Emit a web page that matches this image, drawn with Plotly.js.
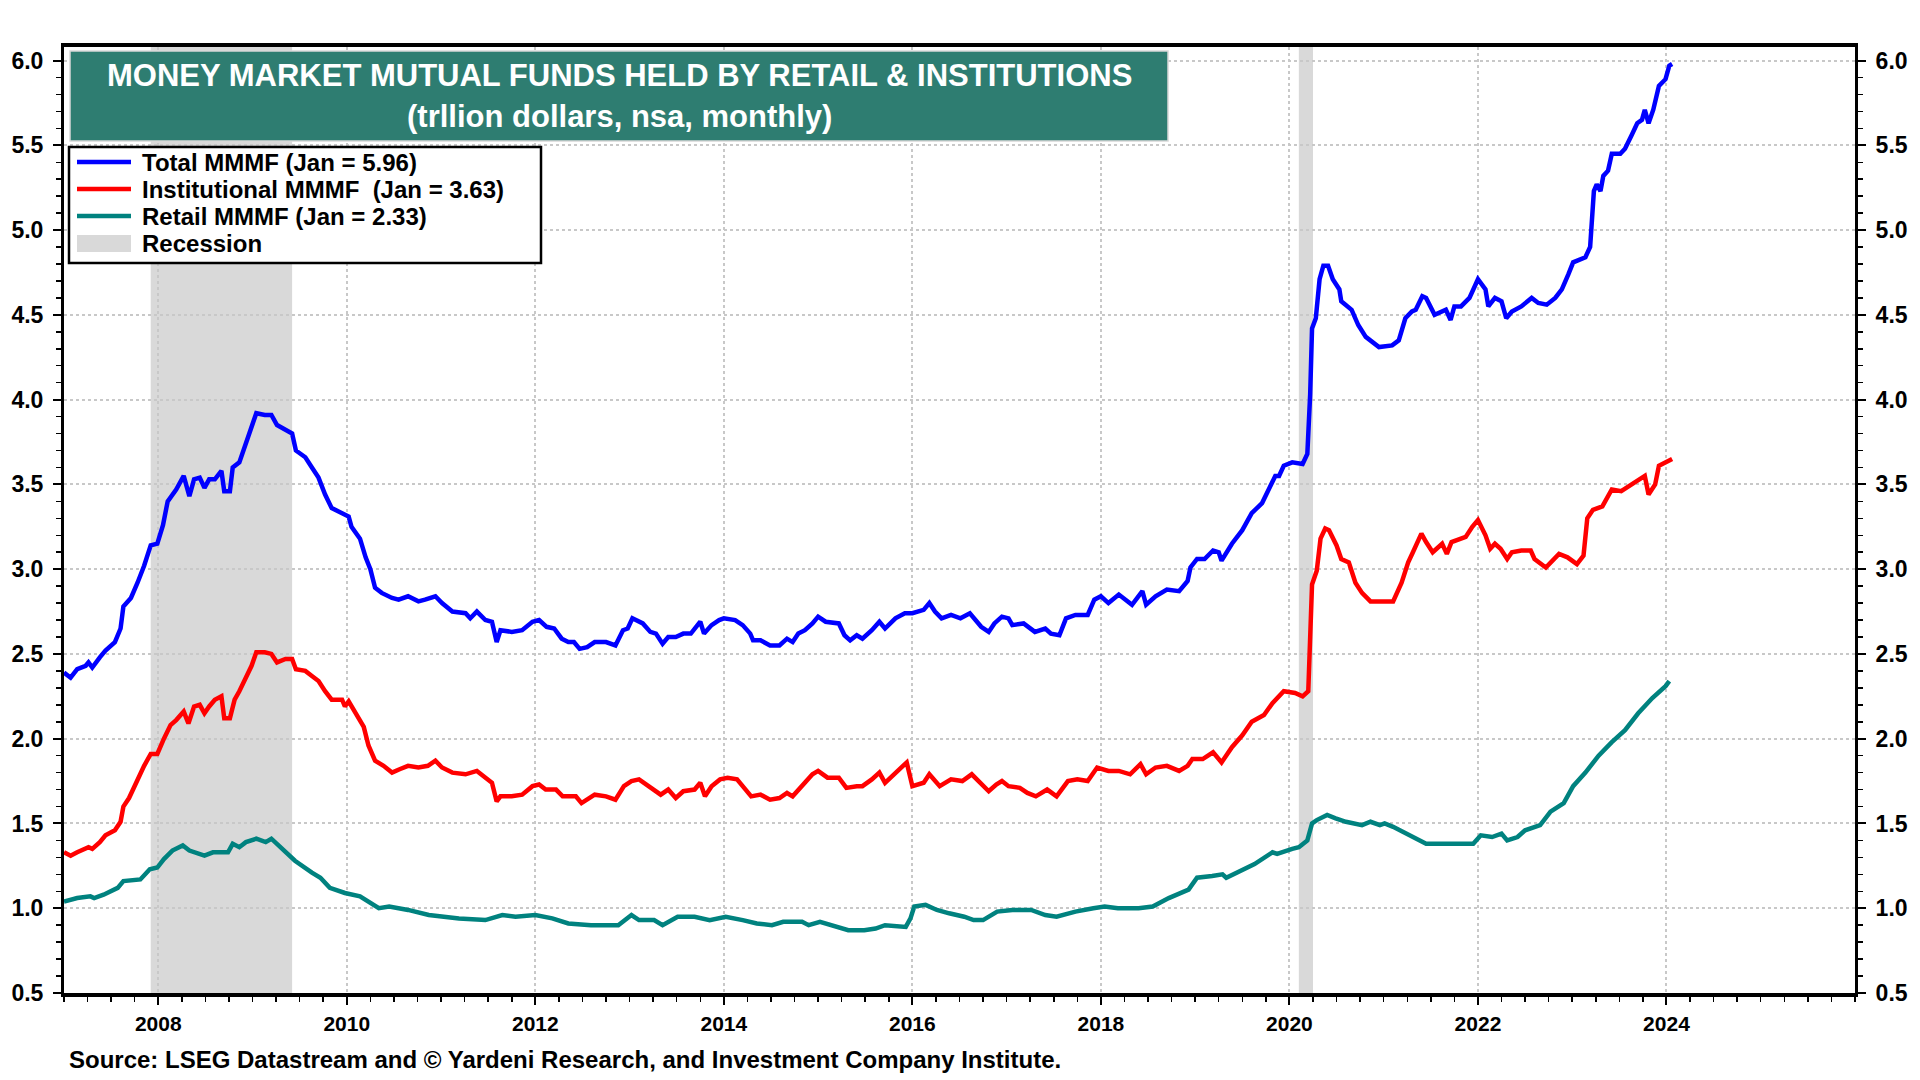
<!DOCTYPE html>
<html>
<head>
<meta charset="utf-8">
<script src="https://cdn.plot.ly/plotly-3.0.1.min.js"></script>
<style>
  html, body { margin: 0; padding: 0; background: #ffffff; }
  #chart { width: 1920px; height: 1080px; }
</style>
</head>
<body>
<div id="chart"></div>
<script>
// ---------------- DATA ----------------
const totalYears = [2007.00,2007.07,2007.14,2007.23,2007.26,2007.30,2007.38,2007.44,2007.54,2007.60,2007.63,2007.71,2007.78,2007.85,2007.92,2007.99,
2008.05,2008.10,2008.19,2008.27,2008.33,2008.38,2008.44,2008.49,2008.54,2008.60,2008.67,2008.70,2008.76,2008.79,2008.86,2008.92,2008.97,
2009.04,2009.13,2009.20,2009.26,2009.35,2009.42,2009.46,2009.56,2009.63,2009.70,2009.77,2009.84,2009.95,
2010.02,2010.05,2010.14,2010.20,2010.25,2010.30,2010.37,2010.48,2010.55,2010.65,2010.76,2010.83,2010.94,
2011.01,2011.12,2011.26,2011.31,2011.38,2011.47,2011.54,2011.59,2011.63,2011.75,2011.86,2011.97,
2012.04,2012.12,2012.20,2012.28,2012.35,2012.41,2012.47,2012.55,2012.63,2012.75,2012.85,2012.93,2012.98,
2013.03,2013.14,2013.22,2013.28,2013.35,2013.41,2013.49,2013.57,2013.65,2013.75,2013.79,2013.87,2013.95,
2014.00,2014.12,2014.20,2014.28,2014.31,2014.39,2014.49,2014.59,2014.67,2014.73,2014.79,2014.86,2014.94,
2015.00,2015.08,2015.22,2015.28,2015.34,2015.41,2015.47,2015.57,2015.65,2015.71,2015.82,2015.92,
2016.00,2016.12,2016.18,2016.24,2016.31,2016.41,2016.51,2016.61,2016.66,2016.73,2016.81,2016.87,2016.95,
2017.02,2017.06,2017.18,2017.30,2017.41,2017.47,2017.56,2017.63,2017.73,2017.86,2017.93,
2018.00,2018.08,2018.19,2018.33,2018.44,2018.48,2018.58,2018.70,2018.83,2018.92,2018.95,
2019.02,2019.10,2019.19,2019.25,2019.28,2019.39,2019.50,2019.60,2019.71,2019.78,2019.85,2019.89,2019.94,
2020.03,2020.14,2020.19,2020.22,2020.24,2020.28,2020.32,2020.36,2020.41,2020.46,2020.53,2020.55,2020.66,2020.73,2020.81,2020.95,
2021.09,2021.16,2021.23,2021.30,2021.34,2021.41,2021.45,2021.54,2021.66,2021.71,2021.75,2021.82,2021.91,
2022.00,2022.08,2022.11,2022.18,2022.25,2022.30,2022.36,2022.46,2022.57,2022.64,2022.73,2022.82,2022.89,2022.96,
2023.01,2023.14,2023.19,2023.23,2023.26,2023.30,2023.33,2023.38,2023.42,2023.51,2023.56,2023.63,2023.69,2023.74,2023.77,2023.81,2023.86,2023.92,2023.99,
2024.03,2024.06];
const totalValues = [2.39,2.36,2.41,2.43,2.45,2.42,2.48,2.52,2.57,2.65,2.78,2.83,2.92,3.02,3.14,3.15,
3.26,3.40,3.47,3.55,3.43,3.53,3.54,3.48,3.53,3.53,3.58,3.46,3.46,3.60,3.63,3.73,3.80,
3.92,3.91,3.91,3.85,3.82,3.80,3.70,3.66,3.60,3.54,3.44,3.36,3.33,
3.31,3.25,3.18,3.07,3.00,2.89,2.86,2.83,2.82,2.84,2.81,2.82,2.84,
2.80,2.75,2.74,2.71,2.75,2.70,2.69,2.57,2.64,2.63,2.64,2.69,
2.70,2.66,2.65,2.59,2.57,2.57,2.53,2.54,2.57,2.57,2.55,2.64,2.65,
2.71,2.68,2.63,2.62,2.56,2.60,2.60,2.62,2.62,2.69,2.62,2.67,2.70,
2.71,2.70,2.67,2.62,2.58,2.58,2.55,2.55,2.59,2.57,2.62,2.64,2.68,
2.72,2.69,2.68,2.61,2.58,2.61,2.59,2.64,2.69,2.65,2.71,2.74,
2.74,2.76,2.80,2.75,2.71,2.73,2.71,2.74,2.71,2.66,2.63,2.68,2.72,
2.71,2.67,2.68,2.63,2.65,2.62,2.61,2.71,2.73,2.73,2.82,
2.84,2.80,2.85,2.79,2.87,2.79,2.84,2.88,2.87,2.93,3.01,
3.06,3.06,3.11,3.10,3.05,3.15,3.23,3.33,3.39,3.47,3.55,3.55,3.61,
3.63,3.62,3.68,4.03,4.42,4.48,4.71,4.79,4.79,4.71,4.65,4.58,4.53,4.44,4.37,4.31,
4.32,4.35,4.48,4.52,4.53,4.61,4.60,4.50,4.53,4.47,4.55,4.55,4.60,
4.71,4.65,4.55,4.60,4.58,4.48,4.52,4.55,4.60,4.57,4.56,4.60,4.65,4.74,
4.81,4.84,4.90,5.23,5.27,5.23,5.32,5.35,5.45,5.45,5.48,5.56,5.63,5.65,5.71,5.63,5.71,5.85,5.89,
5.97,5.98];

const instYears = [2007.00,2007.07,2007.14,2007.26,2007.30,2007.38,2007.44,2007.54,2007.60,2007.63,2007.69,2007.76,2007.85,2007.92,2007.99,
2008.06,2008.13,2008.19,2008.27,2008.32,2008.38,2008.44,2008.49,2008.54,2008.60,2008.67,2008.70,2008.76,2008.81,2008.86,2008.93,2008.99,
2009.04,2009.13,2009.20,2009.26,2009.35,2009.42,2009.46,2009.56,2009.63,2009.70,2009.77,2009.84,2009.95,2009.98,
2010.02,2010.12,2010.18,2010.23,2010.30,2010.39,2010.48,2010.56,2010.65,2010.76,2010.86,2010.94,
2011.01,2011.12,2011.26,2011.38,2011.47,2011.54,2011.59,2011.63,2011.75,2011.86,2011.97,
2012.04,2012.11,2012.22,2012.29,2012.43,2012.49,2012.63,2012.75,2012.85,2012.94,
2013.02,2013.10,2013.22,2013.33,2013.41,2013.49,2013.57,2013.69,2013.75,2013.80,2013.87,2013.96,
2014.04,2014.14,2014.20,2014.29,2014.39,2014.49,2014.59,2014.67,2014.73,2014.81,2014.94,
2015.00,2015.10,2015.22,2015.30,2015.41,2015.47,2015.57,2015.65,2015.71,2015.82,2015.94,
2016.00,2016.12,2016.18,2016.29,2016.41,2016.53,2016.63,2016.73,2016.81,2016.89,2016.95,
2017.02,2017.14,2017.22,2017.31,2017.43,2017.53,2017.65,2017.75,2017.86,2017.96,
2018.08,2018.19,2018.31,2018.42,2018.48,2018.58,2018.70,2018.83,2018.92,2018.97,
2019.08,2019.19,2019.28,2019.39,2019.50,2019.60,2019.73,2019.82,2019.94,
2020.06,2020.14,2020.20,2020.24,2020.29,2020.33,2020.38,2020.42,2020.50,2020.55,2020.63,2020.70,2020.77,2020.86,2020.95,
2021.10,2021.19,2021.26,2021.31,2021.40,2021.45,2021.52,2021.62,2021.67,2021.72,2021.87,2021.94,
2022.00,2022.08,2022.13,2022.18,2022.24,2022.31,2022.36,2022.46,2022.56,2022.60,2022.72,2022.86,2022.95,
2023.05,2023.12,2023.16,2023.22,2023.32,2023.42,2023.52,2023.63,2023.77,2023.81,2023.88,2023.92,2023.99,
2024.06];
const instValues = [1.33,1.31,1.33,1.36,1.35,1.39,1.43,1.46,1.51,1.60,1.65,1.74,1.84,1.91,1.91,
2.00,2.08,2.11,2.16,2.09,2.19,2.20,2.15,2.19,2.23,2.25,2.12,2.12,2.23,2.28,2.36,2.43,
2.51,2.51,2.50,2.45,2.47,2.47,2.41,2.40,2.37,2.34,2.28,2.23,2.23,2.19,
2.22,2.12,2.07,1.96,1.87,1.84,1.80,1.82,1.84,1.83,1.84,1.87,
1.83,1.80,1.79,1.81,1.77,1.74,1.63,1.66,1.66,1.67,1.72,
1.73,1.70,1.70,1.66,1.66,1.62,1.67,1.66,1.64,1.72,
1.75,1.76,1.71,1.67,1.70,1.65,1.69,1.70,1.74,1.66,1.72,1.76,
1.77,1.76,1.72,1.66,1.67,1.64,1.65,1.68,1.66,1.71,1.79,
1.81,1.77,1.77,1.71,1.72,1.72,1.76,1.80,1.74,1.80,1.86,
1.72,1.74,1.79,1.72,1.76,1.75,1.79,1.73,1.69,1.73,1.75,
1.72,1.71,1.68,1.66,1.70,1.66,1.75,1.76,1.75,1.83,
1.81,1.81,1.79,1.85,1.79,1.83,1.84,1.81,1.84,1.88,
1.88,1.92,1.86,1.95,2.02,2.10,2.14,2.21,2.28,
2.27,2.25,2.28,2.91,2.99,3.18,3.24,3.23,3.14,3.06,3.04,2.92,2.86,2.81,2.81,
2.81,2.92,3.04,3.10,3.21,3.16,3.10,3.15,3.09,3.16,3.19,3.25,
3.29,3.20,3.12,3.15,3.12,3.06,3.10,3.11,3.11,3.06,3.01,3.09,3.07,
3.03,3.08,3.30,3.35,3.37,3.47,3.46,3.50,3.55,3.44,3.50,3.61,3.63,
3.65];

const retailYears = [2007.00,2007.14,2007.28,2007.32,2007.42,2007.57,2007.63,2007.81,2007.91,2007.99,
2008.06,2008.15,2008.26,2008.33,2008.49,2008.58,2008.74,2008.79,2008.86,2008.93,
2009.04,2009.14,2009.20,2009.29,2009.38,2009.45,2009.63,2009.72,2009.82,2009.98,
2010.14,2010.25,2010.34,2010.45,2010.65,2010.87,
2011.01,2011.19,2011.47,2011.65,2011.79,
2012.00,2012.18,2012.35,2012.59,2012.88,
2013.02,2013.10,2013.26,2013.35,2013.51,2013.69,2013.85,
2014.02,2014.20,2014.35,2014.51,2014.63,2014.83,2014.90,
2015.02,2015.18,2015.32,2015.49,2015.61,2015.71,2015.86,2015.93,2015.98,
2016.02,2016.14,2016.26,2016.39,2016.55,2016.65,2016.75,2016.90,
2017.06,2017.26,2017.41,2017.53,2017.73,2017.92,
2018.04,2018.18,2018.40,2018.55,2018.72,2018.93,
2019.02,2019.18,2019.29,2019.33,2019.45,2019.63,2019.82,2019.87,
2020.03,2020.10,2020.19,2020.24,2020.29,2020.40,2020.49,2020.60,2020.77,2020.86,2020.96,
2021.01,2021.10,2021.24,2021.40,2021.45,2021.60,2021.80,2021.95,
2022.03,2022.15,2022.25,2022.31,2022.42,2022.50,2022.66,2022.77,2022.91,
2023.01,2023.14,2023.28,2023.42,2023.56,2023.70,2023.85,2023.99,
2024.03];
const retailValues = [1.04,1.06,1.07,1.06,1.08,1.12,1.16,1.17,1.23,1.24,
1.29,1.34,1.37,1.34,1.31,1.33,1.33,1.38,1.36,1.39,
1.41,1.39,1.41,1.36,1.31,1.28,1.21,1.18,1.12,1.09,
1.07,1.03,1.00,1.01,0.99,0.96,
0.95,0.94,0.93,0.96,0.95,
0.96,0.94,0.91,0.90,0.90,
0.96,0.93,0.93,0.90,0.95,0.95,0.93,
0.95,0.93,0.91,0.90,0.92,0.92,0.90,
0.92,0.89,0.87,0.87,0.88,0.90,0.89,0.89,0.94,
1.01,1.02,0.99,0.97,0.95,0.93,0.93,0.98,
0.99,0.99,0.96,0.95,0.98,1.00,
1.01,1.00,1.00,1.01,1.06,1.11,
1.18,1.19,1.20,1.18,1.21,1.26,1.33,1.32,
1.35,1.36,1.40,1.50,1.52,1.55,1.53,1.51,1.49,1.51,1.49,
1.50,1.48,1.44,1.39,1.38,1.38,1.38,1.38,
1.43,1.42,1.44,1.40,1.42,1.46,1.49,1.57,1.62,
1.72,1.80,1.90,1.98,2.05,2.15,2.24,2.31,
2.34];

const recessionStarts = [2007.92, 2020.10];
const recessionEnds   = [2009.42, 2020.25];

const seriesNames = ['Total MMMF (Jan = 5.96)', 'Institutional MMMF  (Jan = 3.63)', 'Retail MMMF (Jan = 2.33)', 'Recession'];
const seriesColors = ['#0000ff', '#ff0000', '#00827f', '#d9d9d9'];
const titleLines = ['MONEY MARKET MUTUAL FUNDS HELD BY RETAIL &amp; INSTITUTIONS', '(trllion dollars, nsa, monthly)'];
const sourceText = 'Source: LSEG Datastream and © Yardeni Research, and Investment Company Institute.';
const xTickYears = [2008, 2010, 2012, 2014, 2016, 2018, 2020, 2022, 2024];

// ---------------- STYLE / GEOMETRY ----------------
const FONT = 'Liberation Sans, Arial, Helvetica, sans-serif';
const GRID = '#c8c8c8';
const yRange = [0.5, 6.08];
const M = { l: 64, r: 65, t: 47, b: 87 };
const PW = 1920 - M.l - M.r, PH = 1080 - M.t - M.b;
const px = X => (X - M.l) / PW;            // pixel -> paper x
const py = Y => (1080 - M.b - Y) / PH;     // pixel -> paper y

const traces = [
  { x: totalYears, y: totalValues, name: seriesNames[0], type: 'scatter', mode: 'lines',
    line: { color: seriesColors[0], width: 4.5 }, showlegend: false },
  { x: instYears, y: instValues, name: seriesNames[1], type: 'scatter', mode: 'lines',
    line: { color: seriesColors[1], width: 4.5 }, showlegend: false },
  { x: retailYears, y: retailValues, name: seriesNames[2], type: 'scatter', mode: 'lines',
    line: { color: seriesColors[2], width: 4.5 }, yaxis: 'y2', showlegend: false }
];

const shapes = recessionStarts.map((s, i) => ({
  type: 'rect', xref: 'x', yref: 'paper', x0: s, x1: recessionEnds[i], y0: 0, y1: 1,
  fillcolor: seriesColors[3], line: { width: 0 }, layer: 'below'
}));
// title box
shapes.push({
  type: 'rect', xref: 'paper', yref: 'paper', x0: px(70), x1: px(1168), y0: py(141), y1: py(51),
  fillcolor: '#2e7d71', line: { color: '#d8d8d8', width: 1.5 }, layer: 'above'
});
// legend box
shapes.push({
  type: 'rect', xref: 'paper', yref: 'paper', x0: px(69), x1: px(541), y0: py(263), y1: py(147),
  fillcolor: '#ffffff', line: { color: '#000000', width: 2.5 }, layer: 'above'
});
const legendRowsY = [162, 189, 216, 243];
for (let i = 0; i < 3; i++) {
  shapes.push({ type: 'line', xref: 'paper', yref: 'paper', x0: px(77), x1: px(131),
    y0: py(legendRowsY[i]), y1: py(legendRowsY[i]), line: { color: seriesColors[i], width: 4.5 }, layer: 'above' });
}
shapes.push({ type: 'rect', xref: 'paper', yref: 'paper', x0: px(77), x1: px(131),
  y0: py(252), y1: py(235), fillcolor: seriesColors[3], line: { width: 0 }, layer: 'above' });

const annotations = [
  { xref: 'paper', yref: 'paper', x: px(619), y: py(75), xanchor: 'center', yanchor: 'middle',
    showarrow: false, text: titleLines[0], font: { family: FONT, size: 31, color: '#ffffff', weight: 'bold' } },
  { xref: 'paper', yref: 'paper', x: px(619), y: py(117), xanchor: 'center', yanchor: 'middle',
    showarrow: false, text: titleLines[1], font: { family: FONT, size: 31, color: '#ffffff', weight: 'bold' } },
  { xref: 'paper', yref: 'paper', x: px(67), y: py(1059), xanchor: 'left', yanchor: 'middle',
    showarrow: false, text: sourceText, font: { family: FONT, size: 24, color: '#000000', weight: 'bold' } }
];
seriesNames.forEach((n, i) => annotations.push({
  xref: 'paper', yref: 'paper', x: px(140), y: py(legendRowsY[i]), xanchor: 'left', yanchor: 'middle',
  showarrow: false, text: n.replace(/  /g, '&nbsp; '), font: { family: FONT, size: 24, color: '#000000', weight: 'bold' }
}));

const yAxisCommon = {
  range: yRange, fixedrange: true, tick0: 0.5, dtick: 0.5, tickformat: '.1f',
  ticks: 'outside', ticklen: 8, tickwidth: 2, tickcolor: '#000000',
  minor: { dtick: 0.1, tick0: 0.5, ticks: 'outside', ticklen: 5, tickwidth: 1.5, tickcolor: '#000000', showgrid: false },
  showline: true, linecolor: '#000000', linewidth: 3, zeroline: false,
  tickfont: { family: FONT, size: 23, color: '#000000', weight: 'bold' },
  ticklabelstandoff: 5
};

const layout = {
  width: 1920, height: 1080,
  margin: M,
  paper_bgcolor: '#ffffff', plot_bgcolor: '#ffffff',
  font: { family: FONT, color: '#000000', weight: 'bold' },
  showlegend: false,
  xaxis: {
    range: [2007, 2026], type: 'linear', fixedrange: true,
    tickmode: 'array', tickvals: xTickYears, ticktext: xTickYears.map(String),
    ticks: 'outside', ticklen: 8, tickwidth: 2, tickcolor: '#000000',
    minor: { dtick: 0.25, tick0: 2007, ticks: 'outside', ticklen: 5, tickwidth: 1.5, tickcolor: '#000000', showgrid: false },
    showgrid: true, gridcolor: GRID, gridwidth: 2, griddash: 'dot',
    showline: true, linecolor: '#000000', linewidth: 4, mirror: true, zeroline: false,
    tickfont: { family: FONT, size: 21, color: '#000000', weight: 'bold' },
    ticklabelstandoff: 1
  },
  yaxis: Object.assign({}, yAxisCommon, { showgrid: true, gridcolor: GRID, gridwidth: 2, griddash: 'dot' }),
  yaxis2: Object.assign({}, yAxisCommon, { overlaying: 'y', side: 'right', anchor: 'x', showgrid: false }),
  shapes: shapes,
  annotations: annotations
};

Plotly.newPlot('chart', traces, layout, { staticPlot: true, displayModeBar: false });
</script>
</body>
</html>
